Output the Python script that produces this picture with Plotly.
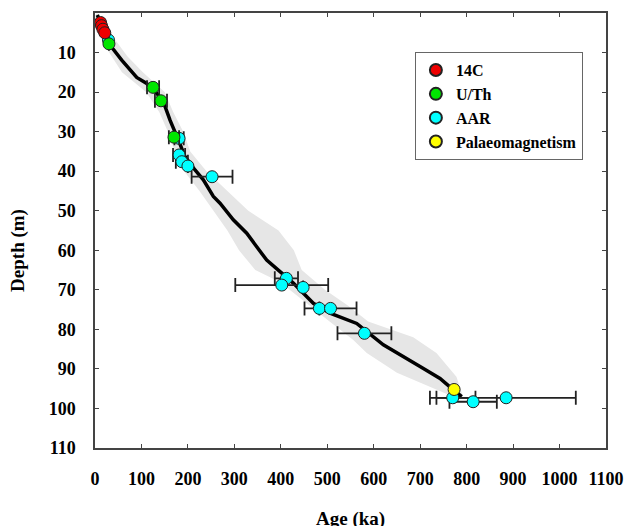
import plotly.graph_objects as go

# ---------------- data ----------------
c14_age = [12, 14, 17, 21]
c14_depth = [2.4, 3.2, 4.1, 5.0]

uth_age = [30, 125, 142, 170]
uth_depth = [7.8, 18.8, 22.2, 31.4]
uth_err = [0, 13, 13, 11]

aar_age = [29, 181, 181, 187, 200, 252, 412, 402, 448, 483, 507, 580, 770, 814, 885]
aar_depth = [6.8, 31.7, 35.9, 37.6, 38.7, 41.4, 67.1, 68.8, 69.4, 74.7, 74.7, 81.0, 97.3, 98.3, 97.3]
aar_err = [0, 10, 13, 13, 0, 44, 25, 100, 0, 0, 56, 58, 49, 51, 150]

pal_age = [773]
pal_depth = [95.2]

model_age = [5, 12, 20, 28.6, 32.3, 57.5, 79, 89.8, 111.3, 132.8, 147, 161.5, 179.3, 193.8,
             215.3, 233.2, 254.8, 269.1, 297.7, 326.6, 348.1, 369.6, 398.3, 426.9, 470,
             505.9, 563.4, 581.3, 620.7, 699.7, 742.7, 771.4, 789.5]
model_depth = [0.5, 2.5, 4.5, 6.0, 8.1, 11.9, 14.8, 16.3, 17.8, 20.3, 22.4, 27.1, 32.1, 36.3,
               39.7, 42.2, 46.4, 48.1, 52.3, 55.7, 59.1, 62.5, 65.4, 68.3, 73.4,
               75.9, 78.5, 80.2, 83.9, 89.4, 92.4, 95.3, 97.0]

band_old_age = [4, 25, 45, 70, 103, 150, 168, 190, 205, 240, 285, 330, 395, 428, 445, 495,
                545, 588, 685, 735, 778, 792]
band_old_depth = [0, 3, 7, 11, 15, 20, 25, 30, 35, 40, 45, 50, 55, 60, 65, 70,
                  74, 78, 82, 86, 92, 97]
band_young_age = [0, 10, 25, 58, 110, 138, 157, 172, 192, 225, 255, 285, 310, 345, 398, 440,
                  505, 556, 585, 650, 721, 770]
band_young_depth = [1, 5, 9, 15, 20, 25, 30, 35, 40, 45, 50, 55, 60, 65, 68, 72,
                    78, 82.7, 86, 91, 94.5, 97]

x_ticks = list(range(0, 1101, 100))
y_ticks = list(range(10, 111, 10))

# ---------------- figure ----------------
FONT = "Liberation Serif"
fig = go.Figure()

band_x = band_young_age + band_old_age[::-1]
band_y = band_young_depth + band_old_depth[::-1]
fig.add_trace(go.Scatter(x=band_x, y=band_y, fill="toself", mode="lines",
                         line=dict(width=0), fillcolor="#e6e6e6",
                         hoverinfo="skip", showlegend=False))
fig.add_trace(go.Scatter(x=model_age, y=model_depth, mode="lines",
                         line=dict(color="black", width=3.5),
                         showlegend=False))

mk = lambda c: dict(color=c, size=12, line=dict(color="#222", width=1))
eb = lambda arr: dict(type="data", array=arr, visible=True, color="#222",
                      thickness=1.8, width=7)

fig.add_trace(go.Scatter(x=aar_age, y=aar_depth, mode="markers", name="AAR",
                         marker=mk("#00ffff"), error_x=eb(aar_err), legendrank=3))
fig.add_trace(go.Scatter(x=uth_age, y=uth_depth, mode="markers", name="U/Th",
                         marker=mk("#00e600"), error_x=eb(uth_err), legendrank=2))
fig.add_trace(go.Scatter(x=c14_age, y=c14_depth, mode="markers", name="14C",
                         marker=mk("#ee0000"), legendrank=1))
fig.add_trace(go.Scatter(x=pal_age, y=pal_depth, mode="markers", name="Palaeomagnetism",
                         marker=mk("#ffff00"), legendrank=4))

axis_common = dict(showline=True, linecolor="#444", linewidth=1.5, mirror="ticks",
                   ticks="inside", ticklen=4, tickcolor="#444", showgrid=False,
                   zeroline=False,
                   tickfont=dict(family=FONT, size=18, color="black", weight="bold"))

fig.update_xaxes(range=[0, 1100], tickvals=x_ticks, ticktext=[str(v) for v in x_ticks],
                 ticklabelstandoff=14, **axis_common)
fig.update_yaxes(range=[110, 0], tickvals=y_ticks, ticktext=[str(v) for v in y_ticks],
                 ticklabelstandoff=14, **axis_common)

fig.add_annotation(text="Age (ka)", xref="paper", yref="paper", x=0.5, y=-0.163,
                   showarrow=False, yanchor="middle",
                   font=dict(family=FONT, size=19, color="black", weight="bold"))
fig.add_annotation(text="Depth (m)", xref="paper", yref="paper", x=-0.151, y=0.455,
                   showarrow=False, textangle=-90, xanchor="center", yanchor="middle",
                   font=dict(family=FONT, size=19, color="black", weight="bold"))

fig.update_layout(
    width=630, height=526,
    margin=dict(l=95, r=24, t=13, b=78, autoexpand=False),
    paper_bgcolor="white", plot_bgcolor="white",
    font=dict(family=FONT, color="black", weight="bold"),
    legend=dict(x=0.626, y=0.91, xanchor="left", yanchor="top",
                bgcolor="white", bordercolor="#666", borderwidth=1,
                font=dict(family=FONT, size=16, color="black", weight="bold"),
                itemsizing="constant", itemwidth=30),
)

fig.write_html("out.html", config={"displayModeBar": False},
               post_script="document.body.style.margin='0';document.body.style.overflow='hidden';")
